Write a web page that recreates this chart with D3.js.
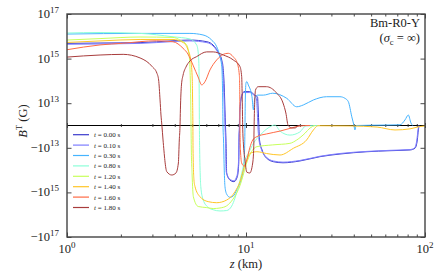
<!DOCTYPE html>
<html>
<head>
<meta charset="utf-8">
<script src="https://cdn.jsdelivr.net/npm/d3@7"></script>
<style>
  body { margin: 0; background: #fff; }
  svg { font-family: "Liberation Serif", "DejaVu Serif", serif; }
</style>
</head>
<body>
<svg id="chart" width="447" height="279"></svg>
<script>
// legend labels + line colours
const times = ["0.00", "0.10", "0.30", "0.80", "1.20", "1.40", "1.60", "1.80"];
const colors = ["#3a3acc", "#7d7dff", "#45b4ff", "#8cffd8", "#c8ff5c", "#ffc628", "#ff6a45", "#a83c3c"];

// [z (km), B^T (G)]
const t000 = [[1,4.8e15],[1.53,5.0e15],[2.56,5.2e15],[3.91,6.3e15],[4.86,6.8e15],[6.05,5.7e15],[6.54,4.1e15],[6.98,2.0e15],[7.32,8.7e14],[7.44,4.2e14],[7.56,5.3e13],[7.63,7e12],[7.68,0],[7.73,-6.5e12],[7.80,-1.35e14],[8.14,-2.8e14],[8.57,-3.3e14],[8.94,-2.0e14],[9.11,-4.8e13],[9.15,-6.5e12],[9.21,0],[9.25,7e12],[9.50,2.3e13],[9.75,3.3e13],[10.5,3.3e13],[11.2,2.3e13],[11.6,1.9e13],[11.7,7e12],[11.8,0],[11.9,-6.5e12],[12.3,-1.25e13],[12.8,-2.5e13],[14.2,-4.2e13],[16.1,-4.7e13],[20.0,-3.9e13],[25.9,-2.5e13],[33.5,-1.9e13],[47.4,-1.5e13],[63.7,-1.35e13],[82.5,-1.25e13],[87.9,-1.05e13],[90.6,-6.5e12],[91.8,-2e12],[92.7,0]];
const t010 = [[1,4.4e15],[2.56,4.8e15],[3.91,5.8e15],[4.86,6.2e15],[6.05,5.2e15],[6.54,3.7e15],[6.98,1.8e15],[7.25,8.7e14],[7.38,4.2e14],[7.50,5.3e13],[7.58,7e12],[7.63,0],[7.68,-6.5e12],[7.75,-1.2e14],[8.1,-2.5e14],[8.55,-3.0e14],[8.9,-1.8e14],[9.08,-4.5e13],[9.12,-6e12],[9.18,0],[9.22,7e12],[9.45,2.2e13],[9.7,3.0e13],[10.5,3.0e13],[11.0,2.4e13],[11.4,1.8e13],[11.55,7e12],[11.65,0],[11.8,-6e12],[12.2,-1.2e13],[12.8,-2.3e13],[14.2,-3.9e13],[16.1,-4.4e13],[20,-3.7e13],[25.9,-2.4e13],[33.5,-1.8e13],[47.4,-1.45e13],[63.7,-1.3e13],[82.5,-1.2e13],[87.5,-1.0e13],[90.2,-6e12],[91.4,-2e12],[92.3,0]];
const t030 = [[1,1.26e16],[2.56,1.35e16],[4.86,1.35e16],[5.75,1.15e16],[6.43,6.8e15],[6.86,3.4e15],[7.16,1.2e15],[7.32,4.4e14],[7.41,1.4e13],[7.44,0],[7.49,-6.5e12],[7.56,-1e14],[7.63,-5.5e14],[7.80,-1.2e15],[8.14,-1.66e15],[8.49,-1.45e15],[8.87,-7.8e14],[9.25,-3.8e14],[9.66,-1e14],[9.82,-1.25e13],[9.87,0],[9.91,1.4e13],[10.0,8.1e13],[10.1,9.4e13],[10.3,6.6e13],[10.8,1.95e13],[11.0,7e12],[11.2,1.7e13],[11.6,2.3e13],[12.5,2.3e13],[14.1,2.8e13],[16.9,1.65e13],[19.2,8.4e12],[20.9,9.2e12],[23.8,1.4e13],[28.2,1.95e13],[33.5,1.95e13],[35.7,1.66e13],[37.3,1.17e13],[39.0,3.9e12],[40.1,0],[40.6,-2e12],[41.2,0],[60,2e11],[72.5,3e11],[77.3,2.5e12],[80.7,4.7e12],[83.5,1.1e12],[85.3,0]];
const t080 = [[1,1.4e16],[1.53,1.48e16],[2.56,1.35e16],[3.91,9.5e15],[4.86,7.6e15],[5.30,4.1e15],[5.41,1.8e15],[5.46,4.4e14],[5.48,1.4e13],[5.49,0],[5.51,-1.25e13],[5.55,-1.66e14],[5.59,-5.5e14],[5.77,-2.2e15],[6.15,-4.7e15],[6.56,-6.0e15],[7.16,-6.8e15],[7.80,-6.5e15],[8.32,-4.1e15],[8.68,-1.8e15],[9.06,-5.5e14],[9.46,-1.4e14],[9.87,-3.5e13],[10.3,-1.8e13],[11.0,-8e12],[12.0,-4.3e12],[13.3,-1.1e12],[14.5,2e11],[15.5,-2.5e12],[17.6,-4.3e12],[20,-2.9e12],[21.6,-2e11],[25.9,0]];
const t120 = [[1,6.8e15],[1.53,7.9e15],[2.56,9.3e15],[3.91,8.9e15],[4.28,6.8e15],[4.66,4.1e15],[4.82,1.23e15],[4.86,4.4e14],[4.91,1.4e13],[4.93,0],[4.95,-1.25e13],[5.0,-1.66e14],[5.08,-1.55e15],[5.41,-4.3e15],[6.03,-4.8e15],[6.56,-5.3e15],[7.16,-5.0e15],[7.80,-4.0e15],[8.46,-2.0e15],[8.91,-1.0e15],[9.25,-5.0e14],[9.62,-1.8e14],[10.0,-5.9e13],[10.5,-2.1e13],[11.5,-9.5e12],[14.1,-8.7e12],[17.6,-8e12],[19.2,-6.5e12],[21.4,-3.4e12],[22.8,-1.1e12],[24.3,0]];
const t140 = [[1,5.3e15],[1.53,6.2e15],[2.56,7.2e15],[3.91,7.2e15],[4.45,5.3e15],[4.74,2.5e15],[4.93,7.1e14],[5.01,1.1e14],[5.03,1.4e13],[5.05,0],[5.06,-1.25e13],[5.12,-2.8e14],[5.19,-5.5e14],[5.53,-1.55e15],[6.15,-2.6e15],[6.86,-2.9e15],[7.80,-2.2e15],[8.68,-9.3e14],[9.25,-3.3e14],[9.66,-1e14],[10.1,-3.5e13],[10.5,-1.8e13],[11.5,-1.5e13],[13.0,-1.8e13],[15.5,-2.1e13],[18.4,-1.05e13],[21.8,-6.5e12],[23.8,-2e12],[25.2,-1e11],[38.1,-2e11],[54.0,-7e11],[68.0,-2e12],[82.5,-1.5e12],[93.7,-4.5e11],[100,-2e11]];
const t160 = [[1,2.5e15],[1.53,4.1e15],[2.06,4.9e15],[3.17,6.3e15],[3.91,5.7e15],[4.45,2.9e15],[4.74,1.6e15],[5.08,4.7e14],[5.40,1.5e14],[5.66,6.6e13],[5.90,9.2e13],[6.29,3.1e14],[6.86,8.7e14],[7.47,1.55e15],[7.96,1.73e15],[8.49,1.2e15],[8.94,6.2e14],[9.18,1.8e14],[9.24,1.4e13],[9.25,0],[9.31,-1.25e13],[9.46,-4.8e13],[9.75,-6.6e13],[10.1,-3.5e13],[10.5,-1e13],[10.9,-6.5e12],[11.5,-5e12],[13.0,-3.8e12],[15.5,-2.5e12],[17.6,-1.3e12],[20,-2e11],[22.8,0]];
const t180 = [[1,1.17e15],[1.53,1.45e15],[2.06,1.55e15],[2.56,1.07e15],[2.99,4.4e14],[3.18,2.2e14],[3.25,1.1e14],[3.31,1.4e13],[3.35,4.7e12],[3.39,0],[3.44,-6.5e12],[3.61,-1.18e14],[3.85,-1.66e14],[4.06,-1.35e14],[4.19,-4.8e13],[4.24,-6.5e12],[4.28,0],[4.30,7e12],[4.36,6.6e13],[4.45,1.8e14],[4.62,4.2e14],[4.86,7.8e14],[5.30,1.23e15],[6.03,2.0e15],[6.56,2.0e15],[7.47,1.45e15],[8.49,8.7e14],[9.25,4.4e14],[9.46,1.55e14],[9.53,1.4e13],[9.58,0],[9.68,-8.7e12],[9.87,-3.5e13],[10.1,-1.23e14],[10.5,-1.35e14],[10.9,-4.8e13],[11.05,-9.6e12],[11.1,0],[11.2,1.4e13],[11.3,3.9e13],[11.7,5.5e13],[13.0,5.5e13],[14.8,2.9e13],[16.1,1.02e13],[16.7,5.6e12],[17.2,0],[18.0,-1.1e12],[18.8,-1.1e12],[19.5,-2e11],[20,0]];
const series = [t000, t010, t030, t080, t120, t140, t160, t180];

const xMajor = [1, 10, 100];
const xMinor = d3.range(2, 10).concat(d3.range(20, 100, 10));
const yTickExps = [-17, -15, -13, 13, 15, 17];

const plot = { left: 67, right: 425, top: 14, bottom: 237 };
const svg = d3.select('#chart');

const x = d3.scaleLog().domain([1, 100]).range([plot.left, plot.right]);

// symlog like matplotlib: linear inside +-1e13, one decade per unit outside
const linthresh = 1e13;
function symT(v) {
  const a = Math.abs(v);
  if (a <= linthresh) return v / linthresh;
  return Math.sign(v) * (1 + Math.log10(a / linthresh));
}
const yT = d3.scaleLinear().domain([-5, 5]).range([plot.bottom, plot.top]);
const y = v => yT(symT(v));
const expToT = e => Math.sign(e) * (Math.abs(e) - 12);

svg.append('defs').append('clipPath').attr('id', 'clip')
  .append('rect')
  .attr('x', plot.left).attr('y', plot.top)
  .attr('width', plot.right - plot.left).attr('height', plot.bottom - plot.top);

// zero line with its own ticks
const y0 = yT(0);
svg.append('line')
  .attr('x1', plot.left).attr('x2', plot.right)
  .attr('y1', y0).attr('y2', y0)
  .attr('stroke', '#000').attr('stroke-width', 1.2);

function tickAxis(axis, values, size, tx, ty) {
  svg.append('g')
    .attr('transform', `translate(${tx},${ty})`)
    .call(axis.tickValues(values).tickSize(size).tickFormat(''))
    .call(g => g.select('.domain').remove())
    .call(g => g.selectAll('line').attr('stroke', '#333').attr('stroke-width', 0.9));
}
tickAxis(d3.axisBottom(x), xMajor, 2.5, 0, y0);
tickAxis(d3.axisTop(x), xMajor, 2.5, 0, y0);
tickAxis(d3.axisBottom(x), xMinor, 1.5, 0, y0);
tickAxis(d3.axisTop(x), xMinor, 1.5, 0, y0);

// curves
const line = d3.line()
  .x(d => x(d[0]))
  .y(d => y(d[1]))
  .curve(d3.curveMonotoneX);

const curves = svg.append('g').attr('clip-path', 'url(#clip)');
series.forEach((s, i) => {
  curves.append('path')
    .attr('d', line(s))
    .attr('fill', 'none')
    .attr('stroke', colors[i])
    .attr('stroke-width', 1.0)
    .attr('stroke-linejoin', 'round');
});

// frame ticks (inward)
tickAxis(d3.axisBottom(x), xMajor, -4.5, 0, plot.bottom);
tickAxis(d3.axisBottom(x), xMinor, -2.5, 0, plot.bottom);
tickAxis(d3.axisTop(x), xMajor, -4.5, 0, plot.top);
tickAxis(d3.axisTop(x), xMinor, -2.5, 0, plot.top);
tickAxis(d3.axisLeft(yT), yTickExps.map(expToT), -4.5, plot.left, 0);
tickAxis(d3.axisRight(yT), yTickExps.map(expToT), -4.5, plot.right, 0);

svg.append('rect')
  .attr('x', plot.left).attr('y', plot.top)
  .attr('width', plot.right - plot.left).attr('height', plot.bottom - plot.top)
  .attr('fill', 'none').attr('stroke', '#444').attr('stroke-width', 1.4);

// tick labels with superscripts
function powLabel(sel, sign, exp) {
  sel.append('tspan').text(sign + '10');
  sel.append('tspan').attr('dy', -5.5).attr('font-size', 9).text(exp);
}
yTickExps.forEach(e => {
  const t = svg.append('text')
    .attr('x', 59).attr('y', yT(expToT(e)) + 4)
    .attr('text-anchor', 'end').attr('font-size', 12.5).attr('fill', '#222');
  powLabel(t, e < 0 ? '\u2212' : '', Math.abs(e));
});
xMajor.forEach((v, i) => {
  const t = svg.append('text')
    .attr('x', x(v)).attr('y', 253)
    .attr('text-anchor', 'middle').attr('font-size', 12.5).attr('fill', '#222');
  powLabel(t, '', i);
});

// axis titles
const xl = svg.append('text')
  .attr('x', x(10)).attr('y', 268)
  .attr('text-anchor', 'middle').attr('font-size', 12.5).attr('fill', '#222');
xl.append('tspan').attr('font-style', 'italic').text('z');
xl.append('tspan').text(' (km)');

const yl = svg.append('text')
  .attr('transform', 'translate(27,121) rotate(-90)')
  .attr('text-anchor', 'middle').attr('font-size', 12.5).attr('fill', '#222');
yl.append('tspan').attr('font-style', 'italic').text('B');
yl.append('tspan').attr('dy', -5).attr('font-size', 8.5).text('T');
yl.append('tspan').attr('dy', 5).text(' (G)');

// model name
svg.append('text')
  .attr('x', 420).attr('y', 27)
  .attr('text-anchor', 'end').attr('font-size', 12.5).attr('fill', '#222')
  .text('Bm-R0-Y');
const sub = svg.append('text')
  .attr('x', 420).attr('y', 42)
  .attr('text-anchor', 'end').attr('font-size', 12.5).attr('fill', '#222');
sub.append('tspan').text('(');
sub.append('tspan').attr('font-style', 'italic').text('\u03c3');
sub.append('tspan').attr('dy', 2.5).attr('font-size', 8.5).text('c');
sub.append('tspan').attr('dy', -2.5).text(' = \u221e)');

// legend
const legend = svg.append('g');
times.forEach((t, i) => {
  const ly = 134.7 + i * 10.4;
  legend.append('line')
    .attr('x1', 73).attr('x2', 89).attr('y1', ly).attr('y2', ly)
    .attr('stroke', colors[i]).attr('stroke-width', 1.2);
  const lt = legend.append('text')
    .attr('x', 94).attr('y', ly + 2.5)
    .attr('font-size', 7).attr('fill', '#222');
  lt.append('tspan').attr('font-style', 'italic').text('t');
  lt.append('tspan').text(` = ${t} s`);
});
</script>
</body>
</html>
